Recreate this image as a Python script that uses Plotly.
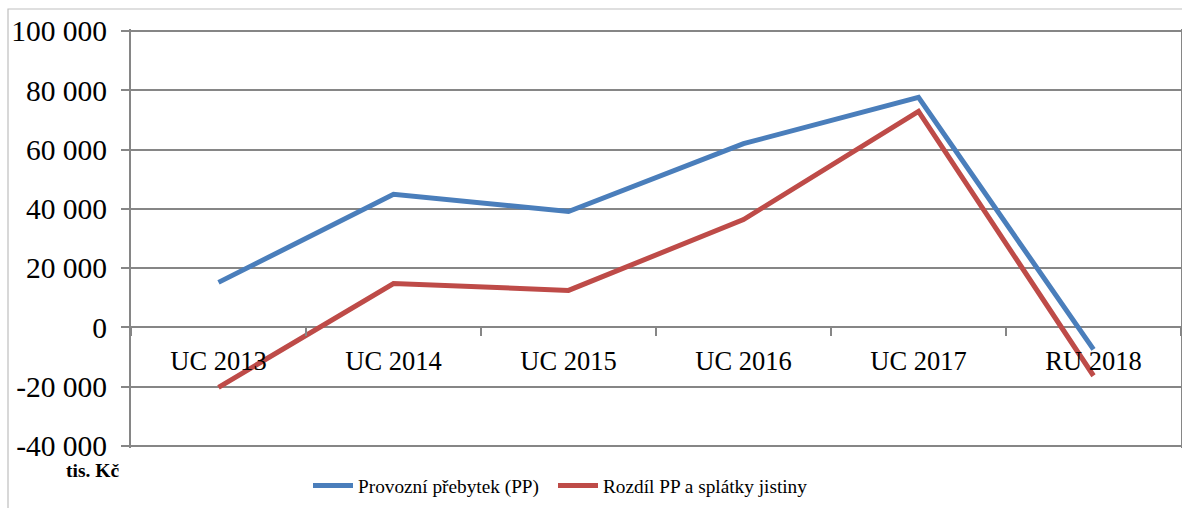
import plotly.graph_objects as go

categories = ["UC 2013", "UC 2014", "UC 2015", "UC 2016", "UC 2017", "RU 2018"]
provozni_prebytek = [15200, 44900, 39100, 62000, 77600, -7400]
rozdil_pp_splatky = [-20200, 14800, 12500, 36400, 72900, -16300]
y_tick_values = [-40000, -20000, 0, 20000, 40000, 60000, 80000, 100000]
y_tick_labels = ["-40 000", "-20 000", "0", "20 000", "40 000", "60 000", "80 000", "100 000"]

W, H = 1182, 508
L, R = 131, 1181
EXTRA = 2  # px of padding so that edge gridlines are drawn
T, B = 31 - EXTRA, 446 + EXTRA
pw, ph = R - L, B - T

FONT = "Liberation Serif, DejaVu Serif, serif"
GRID = "#868686"

fig = go.Figure()
fig.add_trace(go.Scatter(x=categories, y=provozni_prebytek, mode="lines",
                         name="Provozní přebytek (PP)", legend="legend",
                         line=dict(color="#4A7EBB", width=5)))
fig.add_trace(go.Scatter(x=categories, y=rozdil_pp_splatky, mode="lines",
                         name="Rozdíl PP a splátky jistiny", legend="legend2",
                         line=dict(color="#BE4B48", width=5)))

ymin, ymax = -40000, 100000
per_px = (ymax - ymin) / (446 - 31)
rmin, rmax = ymin - EXTRA * per_px, ymax + EXTRA * per_px
zero_pos = (0 - rmin) / (rmax - rmin)


def py(pix):
    return (B - pix) / ph


def px(pix):
    return (pix - L) / pw


legend_common = dict(orientation="h", xanchor="left", y=py(486), yanchor="middle",
                     font=dict(size=19.3, family=FONT), itemwidth=40,
                     bgcolor="rgba(0,0,0,0)")

fig.update_layout(
    width=W, height=H,
    margin=dict(l=L, r=W - R, t=T, b=H - B, pad=0, autoexpand=False),
    paper_bgcolor="white", plot_bgcolor="white",
    font=dict(family=FONT, color="#000000"),
    showlegend=True,
    legend=dict(x=px(308), **legend_common),
    legend2=dict(x=px(553), **legend_common),
    xaxis=dict(
        type="category", range=[-0.5, 5.5], anchor="free", position=zero_pos,
        automargin=False,
        showgrid=False, zeroline=False, showline=False,
        ticks="outside", tickson="boundaries", ticklen=8, tickcolor=GRID, tickwidth=1.5,
        tickfont=dict(size=26.5, family=FONT), ticklabelstandoff=15,
    ),
    yaxis=dict(
        range=[rmin, rmax], tickvals=y_tick_values, ticktext=y_tick_labels,
        automargin=False,
        showgrid=True, gridcolor=GRID, gridwidth=1.5,
        zeroline=False, showline=True, mirror=True, linecolor=GRID, linewidth=2,
        ticks="outside", ticklen=8, tickcolor=GRID, tickwidth=1.5,
        tickfont=dict(size=29.5, family=FONT), ticklabelstandoff=8,
    ),
)

# outer chart border (right and bottom sides fall outside the picture)
fig.add_shape(type="rect", xref="paper", yref="paper",
              x0=px(8), x1=px(1200), y0=py(530), y1=py(9),
              line=dict(color="#BFBFBF", width=1.2), fillcolor="rgba(0,0,0,0)", layer="below")

fig.add_annotation(text="<b>tis. Kč</b>", xref="paper", yref="paper",
                   x=px(92), y=py(471), xanchor="center", yanchor="middle",
                   showarrow=False, font=dict(size=19.5, family=FONT))

fig.write_html("out.html", config={"displayModeBar": False},
               post_script="document.body.style.margin='0';document.body.style.overflow='hidden';")
